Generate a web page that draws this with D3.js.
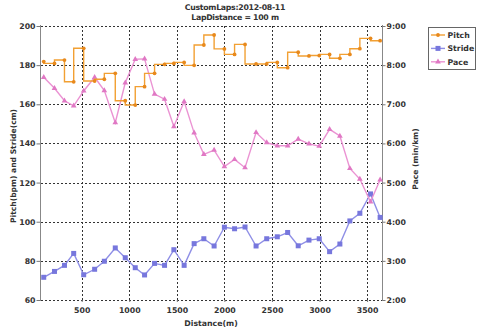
<!DOCTYPE html>
<html>
<head>
<meta charset="utf-8">
<script src="https://cdn.jsdelivr.net/npm/d3@7"></script>
<style>
  html, body { margin: 0; padding: 0; background: #fff; }
  svg { display: block; font-family: "DejaVu Sans", Verdana, sans-serif; font-weight: bold; }
</style>
</head>
<body>
<svg id="chart" width="480" height="329"></svg>
<script>
// Lap-by-lap running metrics (100 m laps)
const distance = [101, 214, 319, 416, 521, 636, 738, 853, 958, 1063, 1161, 1266, 1371, 1469,
  1577, 1682, 1784, 1892, 2000, 2107, 2217, 2333, 2445, 2556, 2665, 2776, 2889, 2997, 3106,
  3214, 3319, 3424, 3536, 3637];
const pitch = [181.8, 180.9, 182.6, 171.5, 188.6, 171.9, 172.8, 175.8, 161.8, 159.6, 169.0,
  175.8, 180.4, 180.9, 181.4, 179.9, 190.3, 195.4, 188.3, 185.5, 190.6, 180.6, 180.6, 181.4,
  178.7, 186.6, 184.7, 184.9, 185.5, 183.5, 185.5, 188.4, 193.7, 192.5];
const stride = [71.6, 74.6, 77.7, 83.8, 72.9, 75.7, 79.8, 86.6, 81.6, 76.5, 72.8, 78.7, 77.7,
  85.7, 77.7, 88.8, 91.3, 87.6, 97.2, 96.4, 97.3, 87.6, 91.3, 92.3, 94.5, 87.7, 90.6, 91.3,
  84.7, 88.6, 100.4, 104.3, 114.2, 102.2];
// pace in minutes per km
const pace = [7.69, 7.41, 7.09, 6.96, 7.34, 7.69, 7.35, 6.53, 7.55, 8.15, 8.16, 7.26, 7.13,
  6.43, 7.07, 6.27, 5.72, 5.83, 5.41, 5.59, 5.38, 6.28, 6.02, 5.94, 5.94, 6.11, 5.99, 5.93,
  6.36, 6.19, 5.36, 5.09, 4.51, 5.07];

const xTicks = [500, 1000, 1500, 2000, 2500, 3000, 3500];
const leftTicks = [60, 80, 100, 120, 140, 160, 180, 200];
const paceTicks = [2, 3, 4, 5, 6, 7, 8, 9];
const paceTickLabels = ["2:00", "3:00", "4:00", "5:00", "6:00", "7:00", "8:00", "9:00"];
const seriesNames = ["Pitch", "Stride", "Pace"];
const titleLines = ["CustomLaps:2012-08-11", "LapDistance = 100 m"];

const colors = {
  Pitch: { line: "#f2a033", mark: "#e8891c" },
  Stride: { line: "#8f8fe6", mark: "#7777dd" },
  Pace: { line: "#eb93d3", mark: "#e078c4" }
};

const svg = d3.select("#chart");
const plot = { left: 40.5, right: 382.5, top: 26, bottom: 300 };

const x = d3.scaleLinear().domain([67, 3662]).range([plot.left, plot.right]);
const yL = d3.scaleLinear().domain([60, 200]).range([plot.bottom, plot.top]);
const yR = d3.scaleLinear().domain([2, 9]).range([plot.bottom, plot.top]);

// Title
svg.append("g").selectAll("text").data(titleLines).join("text")
  .attr("x", 235).attr("y", (d, i) => 9.5 + i * 10)
  .attr("text-anchor", "middle").attr("font-size", 7.8).attr("fill", "#333")
  .attr("letter-spacing", -0.3)
  .text(d => d);

// Grid
const grid = svg.append("g").attr("stroke", "#333").attr("stroke-dasharray", "2,2")
  .attr("stroke-width", 1).attr("shape-rendering", "crispEdges");
grid.selectAll("line.h").data(leftTicks).join("line").attr("class", "h")
  .attr("x1", plot.left).attr("x2", plot.right)
  .attr("y1", d => Math.round(yL(d)) + 0.5).attr("y2", d => Math.round(yL(d)) + 0.5);
grid.selectAll("line.v").data(xTicks).join("line").attr("class", "v")
  .attr("x1", d => Math.round(x(d)) + 0.5).attr("x2", d => Math.round(x(d)) + 0.5)
  .attr("y1", plot.top).attr("y2", plot.bottom);

// Axes
const axisStyle = g => {
  g.select(".domain").remove();
  g.selectAll(".tick line").attr("stroke", "#777");
  g.selectAll(".tick text").attr("fill", "#333").attr("font-size", 7.8)
    .attr("font-family", "DejaVu Sans, Verdana, sans-serif").attr("font-weight", "bold");
};

svg.append("g").attr("transform", `translate(${plot.left},0)`)
  .call(d3.axisLeft(yL).tickValues(leftTicks).tickSize(4).tickPadding(1))
  .call(axisStyle);
svg.append("g").attr("transform", `translate(${plot.right},0)`)
  .call(d3.axisRight(yR).tickValues(paceTicks).tickSize(3).tickPadding(1)
    .tickFormat((d, i) => paceTickLabels[i]))
  .call(axisStyle);
svg.append("g").attr("transform", `translate(0,${plot.bottom})`)
  .call(d3.axisBottom(x).tickValues(xTicks).tickFormat(d3.format("d")).tickSize(2).tickPadding(5))
  .call(axisStyle);

// Axis lines
svg.append("line").attr("x1", plot.left).attr("x2", plot.left)
  .attr("y1", plot.top - 1).attr("y2", plot.bottom + 1).attr("stroke", "#888");
svg.append("line").attr("x1", plot.right).attr("x2", plot.right)
  .attr("y1", plot.top - 1).attr("y2", plot.bottom + 1).attr("stroke", "#888");

// Axis titles
svg.append("text").attr("transform", "translate(16,166) rotate(-90)")
  .attr("text-anchor", "middle").attr("font-size", 7.6).attr("fill", "#333")
  .text("Pitch(bpm) and Stride(cm)");
svg.append("text").attr("transform", "translate(418,159) rotate(-90)")
  .attr("text-anchor", "middle").attr("font-size", 7.6).attr("fill", "#333")
  .text("Pace (min/km)");
svg.append("text").attr("x", 211).attr("y", 326)
  .attr("text-anchor", "middle").attr("font-size", 7.8).attr("fill", "#333")
  .text("Distance(m)");

// Series
const idx = d3.range(distance.length);
const plotArea = svg.append("g");

// Stride
plotArea.append("path").datum(idx)
  .attr("fill", "none").attr("stroke", colors.Stride.line).attr("stroke-width", 1.4)
  .attr("d", d3.line().x(i => x(distance[i])).y(i => yL(stride[i])));
plotArea.append("g").selectAll("rect").data(idx).join("rect")
  .attr("x", i => x(distance[i]) - 2.5).attr("y", i => yL(stride[i]) - 2.5)
  .attr("width", 5).attr("height", 5).attr("fill", colors.Stride.mark);

// Pace
plotArea.append("path").datum(idx)
  .attr("fill", "none").attr("stroke", colors.Pace.line).attr("stroke-width", 1.4)
  .attr("d", d3.line().x(i => x(distance[i])).y(i => yR(pace[i])));
const tri = d3.symbol().type(d3.symbolTriangle).size(14);
plotArea.append("g").selectAll("path").data(idx).join("path")
  .attr("transform", i => `translate(${x(distance[i])},${yR(pace[i])})`)
  .attr("d", tri).attr("fill", colors.Pace.mark);

// Pitch (stepped)
plotArea.append("path").datum(idx)
  .attr("fill", "none").attr("stroke", colors.Pitch.line).attr("stroke-width", 1.4)
  .attr("d", d3.line().curve(d3.curveStepBefore).x(i => x(distance[i])).y(i => yL(pitch[i])));
plotArea.append("g").selectAll("circle").data(idx).join("circle")
  .attr("cx", i => x(distance[i])).attr("cy", i => yL(pitch[i])).attr("r", 1.9)
  .attr("fill", colors.Pitch.mark);

// Legend
const legend = svg.append("g").attr("transform", "translate(428,27)");
legend.append("rect").attr("x", 0.5).attr("y", 0.5).attr("width", 47).attr("height", 42)
  .attr("fill", "#fff").attr("stroke", "#666");
const items = legend.selectAll("g.item").data(seriesNames).join("g").attr("class", "item")
  .attr("transform", (d, i) => `translate(0,${8 + i * 13.4})`);
items.append("line").attr("x1", 3).attr("x2", 17).attr("y1", 0).attr("y2", 0)
  .attr("stroke", d => colors[d].line).attr("stroke-width", 1.4);
items.each(function (d) {
  const g = d3.select(this);
  if (d === "Pitch") g.append("circle").attr("cx", 10).attr("cy", 0).attr("r", 1.9).attr("fill", colors[d].mark);
  else if (d === "Stride") g.append("rect").attr("x", 7.5).attr("y", -2.5).attr("width", 5).attr("height", 5).attr("fill", colors[d].mark);
  else g.append("path").attr("transform", "translate(10,0)").attr("d", tri).attr("fill", colors[d].mark);
});
items.append("text").attr("x", 19.5).attr("y", 3).attr("font-size", 7.8).attr("fill", "#333")
  .text(d => d);
</script>
</body>
</html>
